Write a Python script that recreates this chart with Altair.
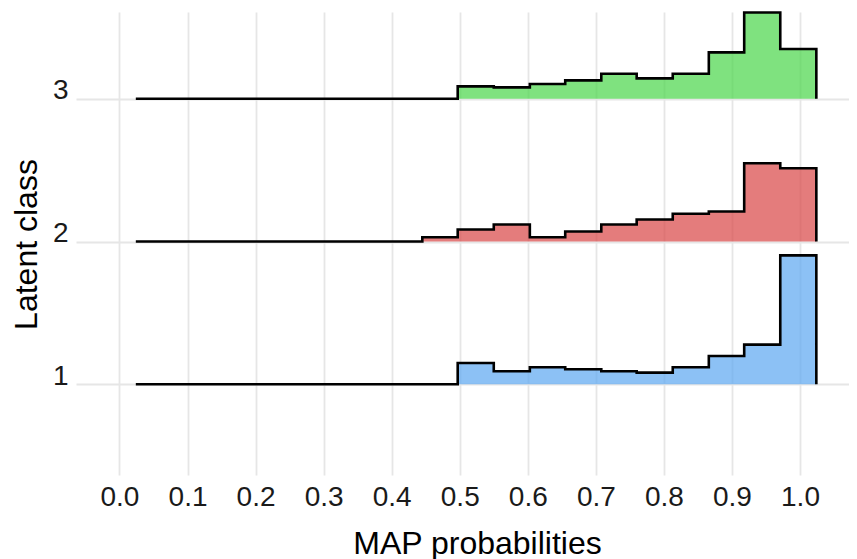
import altair as alt
import pandas as pd

# Histogram bin edges (MAP probability)
bin_edges = [0.024, 0.076, 0.129, 0.182, 0.234, 0.287, 0.339, 0.392, 0.445, 0.497,
             0.550, 0.603, 0.655, 0.708, 0.760, 0.813, 0.866, 0.918, 0.971, 1.024]

classes = [1, 2, 3]

# scaled bin heights (in units of class spacing), one per bin
height_class1 = [0, 0, 0, 0, 0, 0, 0, 0, 0,
                 0.149, 0.091, 0.119, 0.105, 0.091, 0.082, 0.119, 0.198, 0.278, 0.903]
height_class2 = [0, 0, 0, 0, 0, 0, 0, 0, 0.030,
                 0.084, 0.119, 0.030, 0.070, 0.119, 0.154, 0.194, 0.210, 0.548, 0.513]
height_class3 = [0, 0, 0, 0, 0, 0, 0, 0, 0,
                 0.086, 0.079, 0.103, 0.128, 0.175, 0.142, 0.175, 0.324, 0.604, 0.348]

fill_colors = ["#5BA6F1", "#D84444", "#48D648"]
x_ticks = [0.0, 0.1, 0.2, 0.3, 0.4, 0.5, 0.6, 0.7, 0.8, 0.9, 1.0]

rows = []
for c, hs in zip(classes, [height_class1, height_class2, height_class3]):
    for k, h in enumerate(hs):
        rows.append({"cls": str(c), "x": bin_edges[k], "y": c + h, "base": c})
    rows.append({"cls": str(c), "x": bin_edges[-1], "y": c, "base": c})
df = pd.DataFrame(rows)

FONT = "Liberation Sans"

xscale = alt.Scale(domain=[-0.0639, 1.072], nice=False, zero=False)
yscale = alt.Scale(domain=[0.365, 3.607], nice=False, zero=False)

xaxis = alt.Axis(values=x_ticks, format=".1f", title="MAP probabilities",
                 grid=True, gridColor="#E6E6E6", gridWidth=1.8,
                 domain=False, ticks=False, labelPadding=8,
                 labelFontSize=28, labelColor="#1A1A1A", labelFont=FONT,
                 titleFontSize=32, titleFont=FONT, titleFontWeight="normal",
                 titleColor="#000000", titleX=401, titleY=78,
                 titleBaseline="alphabetic", titleAnchor="middle", titleAlign="center")
yaxis = alt.Axis(values=classes, format="d", title="Latent class",
                 grid=True, gridColor="#E6E6E6", gridWidth=1.8,
                 domain=False, ticks=False, labelPadding=8,
                 labelBaseline="alphabetic", labelAlign="right",
                 labelFontSize=28, labelColor="#1A1A1A", labelFont=FONT,
                 titleFontSize=32, titleFont=FONT, titleFontWeight="normal",
                 titleColor="#000000", titleX=-50, titleY=232, titleAngle=270,
                 titleBaseline="middle", titleAlign="center")

base = alt.Chart(df)

area = base.mark_area(interpolate="step-after", opacity=0.7).encode(
    x=alt.X("x:Q", scale=xscale, axis=xaxis),
    y=alt.Y("y:Q", scale=yscale, axis=yaxis),
    y2="base:Q",
    color=alt.Color("cls:N", scale=alt.Scale(domain=["1", "2", "3"], range=fill_colors), legend=None),
)

line = base.mark_line(interpolate="step-after", color="black", strokeWidth=2.6).encode(
    x=alt.X("x:Q", scale=xscale),
    y=alt.Y("y:Q", scale=yscale),
    detail="cls:N",
)

chart = alt.layer(area, line).properties(
    width=773, height=463,
    autosize=alt.AutoSizeParams(type="none"),
    padding={"left": 68, "top": 4, "right": 0, "bottom": 84},
).configure_view(stroke=None)

chart.save("out.html", embed_options={"renderer": "svg", "actions": False})
